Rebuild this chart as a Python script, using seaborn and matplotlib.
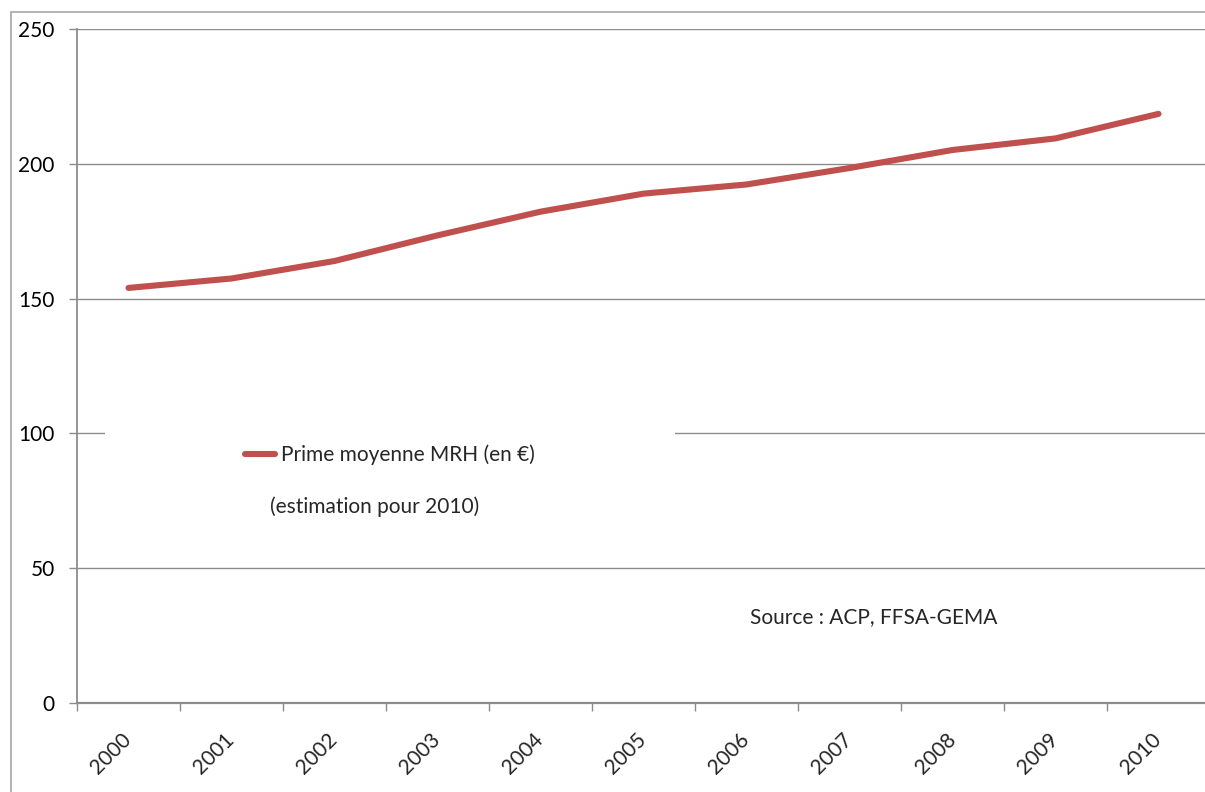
import matplotlib
matplotlib.use("Agg")
import matplotlib.pyplot as plt
from matplotlib.patches import Rectangle
from matplotlib.ticker import FixedLocator
import seaborn as sns
import pandas as pd

# data
annees = ["2000", "2001", "2002", "2003", "2004", "2005",
          "2006", "2007", "2008", "2009", "2010"]
prime_moyenne = [154.0, 157.5, 164.0, 173.5, 182.3, 189.0,
                 192.4, 198.5, 205.2, 209.5, 218.6]
y_ticks = [0, 50, 100, 150, 200, 250]

serie_label = "Prime moyenne MRH (en €)"
note_label = "(estimation pour 2010)"
source_label = "Source : ACP, FFSA-GEMA"

df = pd.DataFrame({"annee": annees, "prime": prime_moyenne})
df["pos"] = range(len(df))

sns.set_style("white")
plt.rcParams['font.family'] = ['Lato', 'DejaVu Sans']

FS = 15
W, H = 1205, 792
fig = plt.figure(figsize=(W / 100, H / 100), dpi=100)
# plot area: left 77px, top 30px, bottom 702px, 11 categories of 103px
ax = fig.add_axes([77 / W, (H - 702.8) / H, 1133 / W, 673.5 / H])

grid_col = "#8c8c8c"

sns.lineplot(data=df, x="pos", y="prime", ax=ax, color="#c0504d",
             linewidth=4.4, solid_capstyle="round", label=serie_label)

ax.set_xlim(-0.5, len(annees) - 0.5)
ax.set_ylim(0, 250)
ax.set_xlabel("")
ax.set_ylabel("")

# horizontal gridlines
ax.set_yticks(y_ticks)
ax.set_yticklabels([str(v) for v in y_ticks], fontsize=FS)
ax.yaxis.grid(True, color=grid_col, linewidth=1.0)
ax.set_axisbelow(True)
ax.tick_params(axis="y", length=5.5, width=1, color=grid_col, pad=10.5,
               left=True, labelcolor="black")

# category boundaries as major ticks, labels on minor ticks
ax.xaxis.set_major_locator(FixedLocator([i - 0.5 for i in range(len(annees) + 1)]))
ax.xaxis.set_major_formatter(plt.NullFormatter())
ax.xaxis.set_minor_locator(FixedLocator(list(range(len(annees)))))
ax.set_xticklabels(annees, minor=True, fontsize=FS, rotation=45,
                   ha="right", va="center", rotation_mode="anchor")
ax.tick_params(axis="x", which="major", length=6, width=1, color=grid_col,
               bottom=True)
ax.tick_params(axis="x", which="minor", length=0, pad=24)

for s in ["top", "right"]:
    ax.spines[s].set_visible(False)
ax.spines["left"].set_color(grid_col)
ax.spines["bottom"].set_color(grid_col)
ax.spines["left"].set_linewidth(1.3)
ax.spines["bottom"].set_linewidth(1.6)

# white area behind the legend (hides part of the 100 gridline)
ax.add_patch(Rectangle(((105 - 77) / 1133, (702.8 - 525) / 673.5),
                       (675 - 105) / 1133, 110 / 673.5,
                       transform=ax.transAxes, facecolor="white",
                       edgecolor="none", zorder=1.5))

leg = ax.legend(loc="center left",
                bbox_to_anchor=((245 - 77) / 1133, (702.8 - 455) / 673.5),
                frameon=False, fontsize=FS, handlelength=1.45,
                handletextpad=0.3, borderpad=0, borderaxespad=0)

ax.text((270 - 77) / 1133, (702.8 - 507) / 673.5, note_label,
        transform=ax.transAxes, fontsize=FS, ha="left", va="center")
ax.text((750 - 77) / 1133, (702.8 - 617) / 673.5, source_label,
        transform=ax.transAxes, fontsize=FS, ha="left", va="center")

# outer chart frame
fig.add_artist(Rectangle((11 / W, -0.1), 1.2, 1.1 - 12 / H,
                         transform=fig.transFigure, fill=False,
                         edgecolor="#a6a6a6", linewidth=1.2))

fig.savefig("out.png", dpi=100, facecolor="white")
